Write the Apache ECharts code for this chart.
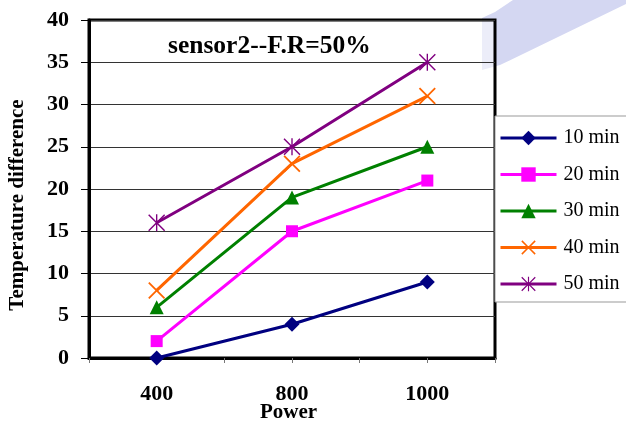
<!DOCTYPE html>
<html>
<head>
<meta charset="utf-8">
<script src="https://cdn.jsdelivr.net/npm/echarts@6/dist/echarts.min.js"></script>
<style>
  html, body { margin: 0; padding: 0; background: #fff; }
  #wrap { position: relative; width: 626px; height: 421px; }
  #band { position: absolute; left: 0; top: 0; }
  #chart { position: absolute; left: 0; top: 0; width: 626px; height: 421px; }
</style>
</head>
<body>
<div id="wrap">
  <!-- faint decorative band behind the chart -->
  <svg id="band" width="626" height="421">
    <polygon points="513,0 626,0 626,4 500,65 482,70 482,18 495,12" fill="#d4d7f2"/>
  </svg>
  <div id="chart"></div>
</div>
<script>
// Power levels on the horizontal axis
const powerLevels = ['400', '800', '1000'];

// Temperature difference readings per heating time
const min10 = [0, 4, 9];
const min20 = [2, 15, 21];
const min30 = [6, 19, 25];
const min40 = [8, 23, 31];
const min50 = [16, 25, 35];

const seriesNames = ['10 min', '20 min', '30 min', '40 min', '50 min'];
const yTicks = [0, 5, 10, 15, 20, 25, 30, 35, 40];

const SERIF = '"Liberation Serif", "Times New Roman", serif';

// Marker shapes drawn as filled outlines
const crossPath = 'path://M0,1.5L1.5,0L10,8.5L18.5,0L20,1.5L11.5,10L20,18.5L18.5,20L10,11.5L1.5,20L0,18.5L8.5,10Z';
const starPath = 'path://M0,1.2L1.2,0L10,8.8L18.8,0L20,1.2L11.2,10L20,18.8L18.8,20L10,11.2L1.2,20L0,18.8L8.8,10Z' +
                 'M9.2,0L10.8,0L10.8,20L9.2,20Z';

// Each category sits on an odd slot of a 0..6 value axis
const slot = i => 2 * i + 1;
const toPoints = arr => arr.map((v, i) => [slot(i), v]);

const styles = [
  { color: '#000080', symbol: 'diamond', size: 15 },
  { color: '#ff00ff', symbol: 'rect', size: 12 },
  { color: '#008000', symbol: 'triangle', size: 14 },
  { color: '#ff6600', symbol: crossPath, size: 17 },
  { color: '#800080', symbol: starPath, size: 17 }
];
const values = [min10, min20, min30, min40, min50];

const chart = echarts.init(document.getElementById('chart'), null, { renderer: 'canvas' });

chart.setOption({
  animation: false,
  backgroundColor: 'transparent',
  title: [{
    text: 'sensor2--F.R=50%',
    left: 163,
    top: 28,
    textStyle: { fontFamily: SERIF, fontWeight: 'bold', fontSize: 25.5, color: '#000' }
  }, {
    // horizontal axis caption
    text: 'Power',
    left: 260,
    top: 402,
    padding: 0,
    textStyle: { fontFamily: SERIF, fontWeight: 'bold', fontSize: 21, color: '#000' }
  }],
  legend: {
    orient: 'vertical',
    left: 495,
    top: 116,
    width: 200,
    padding: [12, 60, 8, 4],
    backgroundColor: '#fff',
    borderColor: '#999',
    borderWidth: 1,
    borderRadius: 0,
    itemWidth: 56,
    itemHeight: 18,
    itemGap: 16.5,
    data: seriesNames,
    lineStyle: { width: 3 },
    textStyle: { fontFamily: SERIF, fontSize: 20, color: '#000', lineHeight: 20, padding: [0, 0, 0, 2] }
  },
  grid: {
    left: 89, right: 131, top: 20, bottom: 63,
    outerBoundsMode: 'none',
    containLabel: false,
    show: true,
    borderColor: '#000',
    borderWidth: 3,
    backgroundColor: 'rgba(255,255,255,0.55)'
  },
  xAxis: {
    type: 'value',
    min: 0, max: 6, interval: 1,
    axisLine: { show: true, lineStyle: { color: '#000', width: 3 } },
    axisTick: { show: true, length: 5, lineStyle: { color: '#777', width: 1 } },
    splitLine: { show: false },
    axisLabel: {
      margin: 25,
      fontFamily: SERIF, fontWeight: 'bold', fontSize: 22, color: '#000',
      formatter: v => (v % 2 === 1 ? powerLevels[(v - 1) / 2] : '')
    }
  },
  yAxis: {
    type: 'value',
    min: yTicks[0], max: yTicks[yTicks.length - 1], interval: 5,
    name: 'Temperature difference',
    nameLocation: 'middle',
    nameGap: 61,
    nameMoveOverlap: false,
    nameTextStyle: {
      fontFamily: SERIF, fontWeight: 'bold', fontSize: 21, color: '#000',
      padding: [0, 32, 0, 0]
    },
    axisLine: { show: true, lineStyle: { color: '#000', width: 3 } },
    axisTick: { show: true, length: 8, lineStyle: { color: '#000', width: 1 } },
    splitLine: { show: true, lineStyle: { color: '#333', width: 1 } },
    axisLabel: {
      margin: 20,
      fontFamily: SERIF, fontWeight: 'bold', fontSize: 22, color: '#000'
    }
  },
  series: values.map((arr, k) => ({
    name: seriesNames[k],
    type: 'line',
    data: toPoints(arr),
    symbol: styles[k].symbol,
    symbolSize: styles[k].size,
    showAllSymbol: true,
    lineStyle: { color: styles[k].color, width: 3 },
    itemStyle: { color: styles[k].color },
    emphasis: { disabled: true },
    z: 2 + (values.length - k)
  }))
});
</script>
</body>
</html>
